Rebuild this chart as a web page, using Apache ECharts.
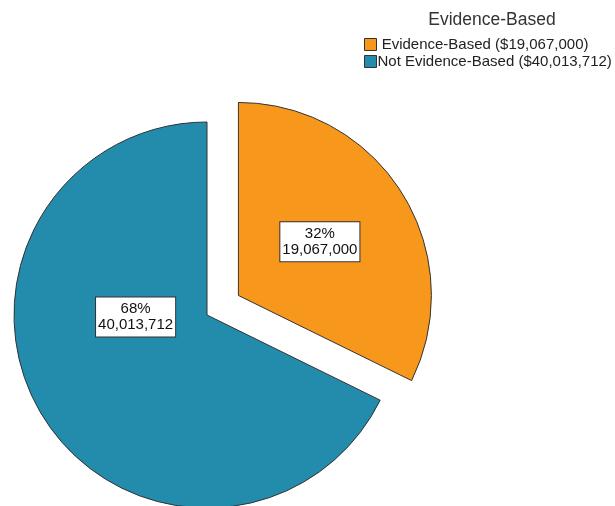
<!DOCTYPE html>
<html>
<head>
<meta charset="utf-8">
<script src="https://cdn.jsdelivr.net/npm/echarts@6/dist/echarts.min.js"></script>
<style>
  html, body { margin: 0; padding: 0; background: #fff; }
  #chart { width: 615px; height: 506px; }
</style>
</head>
<body>
<div id="chart"></div>
<script>
// Funding split by evidence status
const categories = ['Evidence-Based', 'Not Evidence-Based'];
const amounts = [19067000, 40013712];
const sliceColors = ['#F7981D', '#238BAC'];
const exploded = [true, false];
const legendTitle = 'Evidence-Based';

const fmt = v => v.toLocaleString('en-US');
const FONT = 'Liberation Sans, Arial, sans-serif';

const chart = echarts.init(document.getElementById('chart'), null, { renderer: 'canvas' });

const PIE_CX = 207, PIE_CY = 315, PIE_R = 193;

chart.setOption({
  animation: false,
  backgroundColor: '#ffffff',
  title: {
    text: legendTitle,
    left: 487,
    top: 6,
    textAlign: 'center',
    textStyle: { fontFamily: FONT, fontSize: 17.5, fontWeight: 'normal', color: '#333' }
  },
  legend: {
    orient: 'vertical',
    left: 359,
    top: 32,
    itemWidth: 12,
    itemHeight: 12,
    itemGap: 2,
    icon: 'rect',
    selectedMode: false,
    data: categories,
    itemStyle: { borderColor: '#333', borderWidth: 1 },
    textStyle: { fontFamily: FONT, fontSize: 15, lineHeight: 15, color: '#222', padding: [0, 0, 0, -4] },
    formatter: name => {
      const i = categories.indexOf(name);
      return (i === 0 ? ' ' : '') + name + ' ($' + fmt(amounts[i]) + ')';
    }
  },
  series: [{
    type: 'pie',
    center: [PIE_CX, PIE_CY],
    radius: PIE_R,
    startAngle: 90,
    clockwise: true,
    selectedMode: 'multiple',
    selectedOffset: 37,
    emphasis: { disabled: true },
    itemStyle: { borderColor: '#333', borderWidth: 1 },
    label: {
      show: true,
      position: 'inside',
      formatter: p => Math.round(p.percent) + '%\n' + fmt(p.value),
      fontFamily: FONT,
      fontSize: 15,
      lineHeight: 16,
      color: '#111',
      align: 'center',
      backgroundColor: '#ffffff',
      borderColor: '#333',
      borderWidth: 1,
      padding: [4, 2, 3, 2]
    },
    labelLayout: params => {
      if (params.dataIndex === 1) {
        return { x: PIE_CX - PIE_R * 0.37, y: PIE_CY + 2, align: 'center', verticalAlign: 'middle' };
      }
      return { dx: -3, dy: -1 };
    },
    data: categories.map((name, i) => ({
      name,
      value: amounts[i],
      selected: exploded[i],
      itemStyle: { color: sliceColors[i] }
    }))
  }]
});
</script>
</body>
</html>
